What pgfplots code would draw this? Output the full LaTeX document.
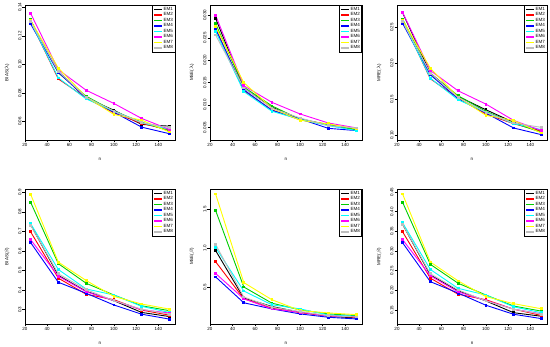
\documentclass[border=0pt]{standalone}
\usepackage{fontspec}
\setmainfont{Liberation Sans}
\usepackage{pgfplots}
\usepackage{pgfplotstable}
\pgfplotsset{compat=1.18}
\definecolor{rgreen}{RGB}{0,205,0}
\definecolor{rgray}{RGB}{190,190,190}
\definecolor{ryellow}{RGB}{255,255,0}
\definecolor{rcyan}{RGB}{0,255,255}
\definecolor{rmag}{RGB}{255,0,255}

\pgfplotstableread{
n e1 e2 e3 e4 e5 e6 e7 e8
25 0.1293 0.1300 0.1312 0.1284 0.1300 0.1358 0.1307 0.1298
50 0.0951 0.0898 0.0940 0.0944 0.0905 0.0963 0.0974 0.0951
75 0.0763 0.0765 0.0777 0.0765 0.0758 0.0819 0.0772 0.0770
100 0.0679 0.0660 0.0672 0.0665 0.0672 0.0726 0.0649 0.0672
125 0.0579 0.0586 0.0595 0.0560 0.0591 0.0621 0.0609 0.0591
150 0.0567 0.0540 0.0533 0.0514 0.0544 0.0544 0.0526 0.0556
}\tA
\pgfplotstableread{
n e1 e2 e3 e4 e5 e6 e7 e8
25 0.0293 0.0271 0.0281 0.0269 0.0264 0.0300 0.0275 0.0256
50 0.0138 0.0132 0.0140 0.0134 0.0130 0.0143 0.0150 0.0138
75 0.0095 0.0089 0.0098 0.0088 0.0086 0.0106 0.0093 0.0093
100 0.0069 0.0067 0.0068 0.0069 0.0068 0.0080 0.0066 0.0071
125 0.0056 0.0056 0.0056 0.0048 0.0054 0.0060 0.0058 0.0054
150 0.0045 0.0047 0.0045 0.0043 0.0043 0.0049 0.0047 0.0049
}\tB
\pgfplotstableread{
n e1 e2 e3 e4 e5 e6 e7 e8
25 0.2708 0.2606 0.2620 0.2560 0.2597 0.2713 0.2606 0.2583
50 0.1866 0.1787 0.1856 0.1843 0.1796 0.1903 0.1935 0.1866
75 0.1542 0.1519 0.1551 0.1509 0.1495 0.1620 0.1532 0.1528
100 0.1356 0.1296 0.1333 0.1310 0.1324 0.1435 0.1278 0.1319
125 0.1181 0.1162 0.1171 0.1102 0.1162 0.1208 0.1208 0.1171
150 0.1056 0.1056 0.1042 0.1009 0.1079 0.1065 0.1032 0.1111
}\tC
\pgfplotstableread{
n e1 e2 e3 e4 e5 e6 e7 e8
25 0.735 0.698 0.849 0.643 0.740 0.658 0.890 0.732
50 0.475 0.461 0.535 0.440 0.505 0.471 0.543 0.483
75 0.394 0.379 0.435 0.384 0.406 0.392 0.449 0.403
100 0.346 0.351 0.375 0.324 0.375 0.346 0.368 0.346
125 0.286 0.298 0.320 0.277 0.317 0.300 0.329 0.303
150 0.265 0.272 0.295 0.252 0.286 0.283 0.303 0.277
}\tD
\pgfplotstableread{
n e1 e2 e3 e4 e5 e6 e7 e8
25 0.970 0.826 1.487 0.630 1.009 0.674 1.700 1.050
50 0.357 0.348 0.500 0.296 0.448 0.348 0.557 0.370
75 0.248 0.226 0.291 0.217 0.270 0.217 0.335 0.239
100 0.174 0.170 0.204 0.152 0.217 0.174 0.196 0.183
125 0.122 0.126 0.152 0.109 0.139 0.126 0.165 0.130
150 0.100 0.109 0.130 0.087 0.122 0.117 0.143 0.113
}\tE
\pgfplotstableread{
n e1 e2 e3 e4 e5 e6 e7 e8
25 0.368 0.349 0.424 0.321 0.372 0.329 0.445 0.368
50 0.239 0.231 0.266 0.222 0.253 0.237 0.272 0.242
75 0.199 0.190 0.218 0.193 0.205 0.196 0.224 0.201
100 0.173 0.176 0.188 0.162 0.188 0.174 0.184 0.173
125 0.143 0.152 0.160 0.139 0.158 0.152 0.166 0.152
150 0.134 0.136 0.147 0.128 0.143 0.140 0.153 0.139
}\tF

\newcommand{\tinyf}{\fontsize{4.5}{5}\selectfont}
\pgfplotsset{
  emline/.style={line width=0.9pt, mark=square*, mark size=0.9pt, mark options={solid}},
  em1/.style={emline, black},
  em2/.style={emline, red},
  em3/.style={emline, rgreen},
  em4/.style={emline, blue},
  em5/.style={emline, rcyan},
  em6/.style={emline, rmag},
  em7/.style={emline, ryellow},
  em8/.style={emline, rgray},
  panel/.style={
    scale only axis, width=150pt, height=135pt,
    xmin=20, xmax=155, xtick={20,40,...,140},
    tick align=outside, xtick pos=bottom, ytick pos=left,
    major tick length=2.5pt,
    tick style={black, line width=0.4pt},
    axis line style={black, line width=0.5pt},
    ticklabel style={font=\tinyf, inner sep=1pt},
    yticklabel style={rotate=90, anchor=south, /pgf/number format/fixed zerofill},
    xticklabel style={anchor=north, /pgf/number format/precision=0},
    scaled y ticks=false,
    /pgf/number format/assume math mode=true,
    /pgf/number format/fixed,
    xlabel={n},
    every axis x label/.style={at={(axis description cs:0.5,-0.145)}, anchor=center, font=\tinyf},
    every axis y label/.style={at={(axis description cs:-0.12,0.5)}, rotate=90, anchor=center, font=\tinyf},
    legend style={at={(1,1)}, anchor=north east, draw=black, line width=0.5pt,
      font=\tinyf, inner xsep=1.5pt, inner ysep=1.5pt, row sep=0pt,
      nodes={inner sep=0.45pt},
      cells={anchor=west}},
    legend image code/.code={\draw[##1, line width=1.6pt] (0pt,0pt) -- (8pt,0pt);},
  }
}
\newcommand{\emplots}[1]{%
  \addplot[em1] table[x=n,y=e1]{#1};
  \addplot[em2] table[x=n,y=e2]{#1};
  \addplot[em3] table[x=n,y=e3]{#1};
  \addplot[em4] table[x=n,y=e4]{#1};
  \addplot[em5] table[x=n,y=e5]{#1};
  \addplot[em6] table[x=n,y=e6]{#1};
  \addplot[em7] table[x=n,y=e7]{#1};
  \addplot[em8] table[x=n,y=e8]{#1};
  \legend{EM1,EM2,EM3,EM4,EM5,EM6,EM7,EM8}
}

\begin{document}
\begin{tikzpicture}
\path[use as bounding box] (0pt,0pt) rectangle (550pt,-347pt);
% top row
\begin{axis}[panel, at={(25pt,-5pt)}, anchor=north west,
  ymin=0.047, ymax=0.1416, ytick={0.06,0.08,0.10,0.12,0.14},
  /pgf/number format/precision=2, ylabel={BIAS($\lambda$)}]
\emplots{\tA}
\end{axis}
\begin{axis}[panel, at={(210pt,-5pt)}, anchor=north west, width=152pt,
  ymin=0.0022, ymax=0.0323, ytick={0.005,0.010,0.015,0.020,0.025,0.030},
  /pgf/number format/precision=3, ylabel={MSE($\lambda$)}]
\emplots{\tB}
\end{axis}
\begin{axis}[panel, at={(397pt,-5pt)}, anchor=north west,
  ymin=0.0935, ymax=0.2815, ytick={0.10,0.15,0.20,0.25},
  /pgf/number format/precision=2, ylabel={MRE($\lambda$)}]
\emplots{\tC}
\end{axis}
% bottom row
\begin{axis}[panel, at={(25pt,-189pt)}, anchor=north west,
  ymin=0.227, ymax=0.916, ytick={0.3,0.4,0.5,0.6,0.7,0.8,0.9},
  /pgf/number format/precision=1, ylabel={BIAS($\beta$)}]
\emplots{\tD}
\end{axis}
\begin{axis}[panel, at={(210pt,-189pt)}, anchor=north west, width=152pt,
  ymin=0.022, ymax=1.765, ytick={0.5,1.0,1.5},
  /pgf/number format/precision=1, ylabel={MSE($\beta$)}]
\emplots{\tE}
\end{axis}
\begin{axis}[panel, at={(397pt,-189pt)}, anchor=north west,
  ymin=0.1143, ymax=0.4577, ytick={0.15,0.20,0.25,0.30,0.35,0.40,0.45},
  /pgf/number format/precision=2, ylabel={MRE($\beta$)}]
\emplots{\tF}
\end{axis}
\end{tikzpicture}
\end{document}
